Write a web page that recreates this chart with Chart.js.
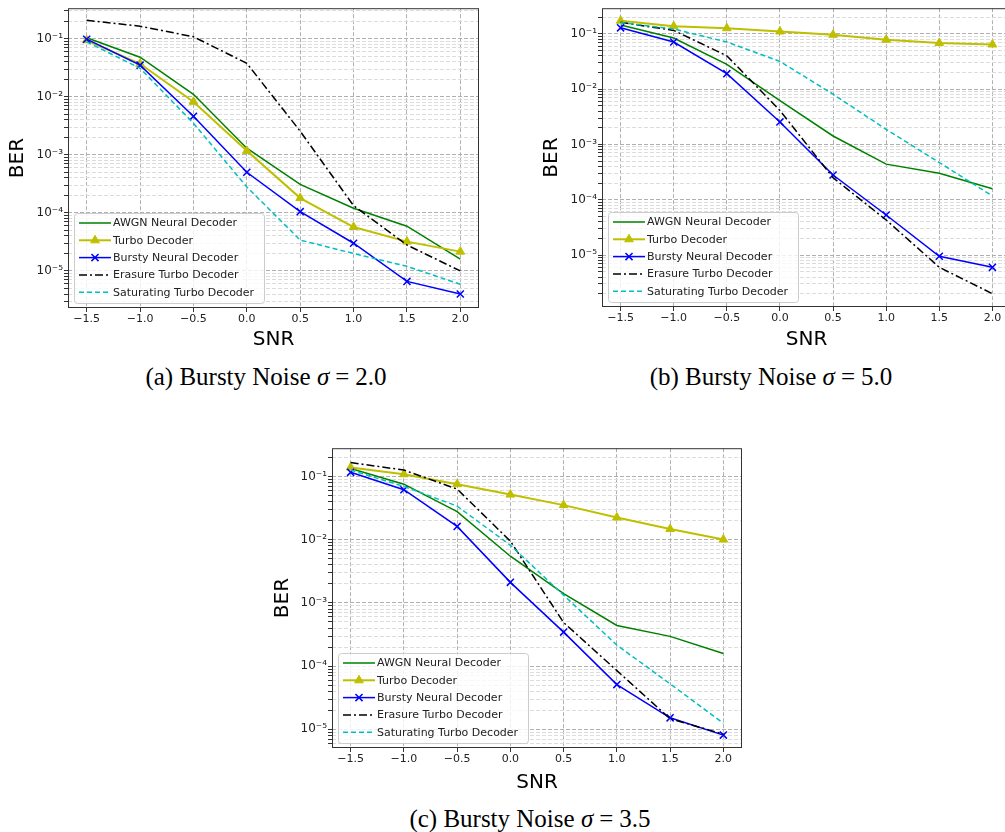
<!DOCTYPE html>
<html>
<head>
<meta charset="utf-8">
<script src="https://cdn.jsdelivr.net/npm/chart.js@4.4.0/dist/chart.umd.min.js"></script>
<style>
	html, body { margin: 0; padding: 0; background: #fff; overflow: hidden; }
	#figure { position: relative; width: 1005px; height: 832px; overflow: hidden; background: #fff; }
	.panel { position: absolute; }
	.caption {
		position: absolute;
		font-family: 'Liberation Serif', 'Times New Roman', serif;
		font-size: 25px;
		color: #000;
		white-space: nowrap;
		transform: translate(-50%, -50%);
	}
	.caption .eq { margin: 0 6px; }
</style>
</head>
<body>
<div id="figure">
	<canvas id="chart-a" class="panel" width="490" height="352" style="left:0px;top:0px"></canvas>
	<canvas id="chart-b" class="panel" width="490" height="352" style="left:534px;top:0px"></canvas>
	<canvas id="chart-c" class="panel" width="490" height="355" style="left:265px;top:440px"></canvas>
	<div class="caption" style="left:266px;top:377px">(a) Bursty Noise <i>σ</i><span class="eq">=</span>2.0</div>
	<div class="caption" style="left:771px;top:377px">(b) Bursty Noise <i>σ</i><span class="eq">=</span>5.0</div>
	<div class="caption" style="left:530px;top:819px">(c) Bursty Noise <i>σ</i><span class="eq">=</span>3.5</div>
</div>
<script>
const snr = [-1.5, -1.0, -0.5, 0.0, 0.5, 1.0, 1.5, 2.0];
const xTickLabels = ['−1.5', '−1.0', '−0.5', '0.0', '0.5', '1.0', '1.5', '2.0'];
const yTickDecades = [-6, -5, -4, -3, -2, -1];
const yTickLabels = ['10⁻⁶', '10⁻⁵', '10⁻⁴', '10⁻³', '10⁻²', '10⁻¹'];
const seriesNames = [
	'AWGN Neural Decoder',
	'Turbo Decoder',
	'Bursty Neural Decoder',
	'Erasure Turbo Decoder',
	'Saturating Turbo Decoder'
];

// (a) sigma = 2.0
const awgnA = [0.104, 0.048, 0.011, 1.3e-3, 3.1e-4, 1.2e-4, 5.9e-5, 1.6e-5];
const turboA = [0.094, 0.037, 8.2e-3, 1.17e-3, 1.8e-4, 5.7e-5, 3.2e-5, 2.15e-5];
const burstyA = [0.098, 0.035, 4.6e-3, 5.0e-4, 1.05e-4, 3.0e-5, 6.6e-6, 4.0e-6];
const erasureA = [0.207, 0.164, 0.108, 0.0377, 2.55e-3, 1.33e-4, 2.8e-5, 1.0e-5];
const saturA = [0.088, 0.031, 3.5e-3, 2.8e-4, 3.4e-5, 2.0e-5, 1.2e-5, 5.9e-6];

// (b) sigma = 5.0
const awgnB = [0.144, 0.084, 0.028, 6.2e-3, 1.42e-3, 4.4e-4, 3.0e-4, 1.58e-4];
const turboB = [0.172, 0.137, 0.126, 0.11, 0.096, 0.078, 0.068, 0.064];
const burstyB = [0.128, 0.071, 0.019, 2.55e-3, 2.8e-4, 5.3e-5, 9.5e-6, 6.0e-6];
const erasureB = [0.161, 0.115, 0.040, 4.1e-3, 2.5e-4, 4.3e-5, 6.0e-6, 2.0e-6];
const saturB = [0.16, 0.122, 0.071, 0.0316, 8.1e-3, 1.87e-3, 4.7e-4, 1.17e-4];

// (c) sigma = 3.5
const awgnC = [0.135, 0.076, 0.0279, 5.5e-3, 1.41e-3, 4.4e-4, 2.96e-4, 1.59e-4];
const turboC = [0.14, 0.109, 0.076, 0.052, 0.0354, 0.0225, 0.0148, 0.0101];
const burstyC = [0.117, 0.062, 0.0163, 2.12e-3, 3.46e-4, 5.1e-5, 1.52e-5, 8.1e-6];
const erasureC = [0.167, 0.127, 0.0636, 9.5e-3, 4.9e-4, 8.5e-5, 1.47e-5, 8.4e-6];
const saturC = [0.127, 0.070, 0.0342, 8.2e-3, 1.33e-3, 2.15e-4, 5.25e-5, 1.25e-5];

const seriesStyles = [
	{ color: '#008000', width: 1.5, dash: [], point: false, radius: 0 },
	{ color: '#bfbf00', width: 2, dash: [], point: 'triangle', radius: 5 },
	{ color: '#0000ff', width: 1.5, dash: [], point: 'crossRot', radius: 5 },
	{ color: '#000000', width: 1.5, dash: [8, 3, 2, 3], point: false, radius: 0 },
	{ color: '#00bfbf', width: 1.5, dash: [5, 3], point: false, radius: 0 }
];

const panels = [
	{ id: 'chart-a', values: [awgnA, turboA, burstyA, erasureA, saturA], yMin: 2.3e-6, yMax: 0.335, yWidth: 68, xHeight: 44, pad: { top: 3, right: 11, bottom: 0, left: 0 } },
	{ id: 'chart-b', values: [awgnB, turboB, burstyB, erasureB, saturB], yMin: 1.15e-6, yMax: 0.29, yWidth: 68, xHeight: 45, pad: { top: 2, right: 13, bottom: 0, left: 0 } },
	{ id: 'chart-c', values: [awgnC, turboC, burstyC, erasureC, saturC], yMin: 5.06e-6, yMax: 0.282, yWidth: 67, xHeight: 47, pad: { top: 3, right: 13, bottom: 0, left: 0 } }
];

Chart.defaults.font.family = "'DejaVu Sans', sans-serif";
Chart.defaults.font.size = 11;
Chart.defaults.color = '#222';

function isDecade(v) {
	const l = Math.log10(v);
	return Math.abs(l - Math.round(l)) < 1e-6;
}

const frameAndLegend = {
	id: 'frameAndLegend',
	afterDatasetsDraw(chart) {
		const { ctx, chartArea } = chart;
		ctx.save();
		ctx.setLineDash([]);
		ctx.strokeStyle = '#333';
		ctx.lineWidth = 1;
		ctx.strokeRect(chartArea.left + 0.5, chartArea.top + 0.5, chartArea.right - chartArea.left - 1, chartArea.bottom - chartArea.top - 1);

		const rowH = 17.3;
		const w = 190;
		const h = 90;
		const x = chartArea.left + 6;
		const y = chartArea.bottom - 5 - h;
		ctx.beginPath();
		ctx.roundRect(x + 0.5, y + 0.5, w, h, 3);
		ctx.fillStyle = 'rgba(255,255,255,0.8)';
		ctx.fill();
		ctx.strokeStyle = '#cccccc';
		ctx.stroke();

		chart.data.datasets.forEach((ds, i) => {
			const cy = y + 10 + i * rowH;
			ctx.strokeStyle = ds.borderColor;
			ctx.lineWidth = ds.borderWidth;
			ctx.setLineDash(ds.borderDash || []);
			ctx.beginPath();
			ctx.moveTo(x + 5, cy);
			ctx.lineTo(x + 37, cy);
			ctx.stroke();
			ctx.setLineDash([]);
			if (ds.pointStyle && ds.pointRadius > 0) {
				ctx.fillStyle = ds.pointBackgroundColor;
				ctx.strokeStyle = ds.pointBorderColor;
				ctx.lineWidth = ds.pointBorderWidth;
				Chart.helpers.drawPoint(ctx, { pointStyle: ds.pointStyle, radius: ds.pointRadius, rotation: 0, borderWidth: ds.pointBorderWidth }, x + 21, cy);
			}
			ctx.fillStyle = '#222';
			ctx.font = "11px 'DejaVu Sans', sans-serif";
			ctx.textBaseline = 'middle';
			ctx.textAlign = 'left';
			ctx.fillText(ds.label, x + 39, cy + 0.5);
		});
		ctx.restore();
	}
};

function buildDatasets(values) {
	return seriesNames.map((name, i) => {
		const s = seriesStyles[i];
		return {
			label: name,
			data: snr.map((x, j) => ({ x: x, y: values[i][j] })),
			borderColor: s.color,
			borderWidth: s.width,
			borderDash: s.dash,
			pointStyle: s.point,
			pointRadius: s.radius,
			pointHoverRadius: s.radius,
			pointBackgroundColor: s.color,
			pointBorderColor: s.color,
			pointBorderWidth: s.point === 'crossRot' ? 1.5 : 1,
			tension: 0,
			fill: false,
			order: seriesNames.length - i
		};
	});
}

function renderPanel(p) {
	const canvas = document.getElementById(p.id);
	new Chart(canvas, {
		type: 'line',
		data: { datasets: buildDatasets(p.values) },
		options: {
			responsive: false,
			animation: false,
			events: [],
			layout: { padding: p.pad },
			plugins: { legend: { display: false }, tooltip: { enabled: false } },
			scales: {
				x: {
					type: 'linear',
					min: -1.675,
					max: 2.175,
					afterBuildTicks: (axis) => {
						axis.ticks = snr.map((v) => ({ value: v }));
					},
					afterFit: (axis) => {
						axis.height = p.xHeight;
					},
					ticks: {
						autoSkip: false,
						maxRotation: 0,
						padding: 1,
						color: '#222',
						callback: (value) => {
							const k = snr.indexOf(value);
							return k >= 0 ? xTickLabels[k] : '';
						}
					},
					grid: { color: '#b0b0b0', lineWidth: 1, tickLength: 4, tickColor: '#333' },
					border: { display: false, dash: [4, 2] },
					title: { display: true, text: 'SNR', color: '#000', font: { size: 20 }, padding: { top: 0, bottom: 0 } }
				},
				y: {
					type: 'logarithmic',
					min: p.yMin,
					max: p.yMax,
					afterBuildTicks: (axis) => {
						const ticks = [];
						for (let e = -7; e <= 0; e++) {
							for (let m = 1; m <= 9; m++) {
								const v = m * Math.pow(10, e);
								if (v >= axis.min && v <= axis.max) ticks.push({ value: v });
							}
						}
						axis.ticks = ticks;
					},
					afterFit: (axis) => {
						axis.width = p.yWidth;
					},
					ticks: {
						autoSkip: false,
						padding: 1,
						color: '#222',
						font: { size: 12 },
						callback: (value) => {
							if (!isDecade(value)) return '';
							const k = yTickDecades.indexOf(Math.round(Math.log10(value)));
							return k >= 0 ? yTickLabels[k] : '';
						}
					},
					grid: {
						color: (ctx) => (ctx.tick && isDecade(ctx.tick.value) ? '#b0b0b0' : '#dcdcdc'),
						lineWidth: 1,
						tickLength: 4,
						tickColor: '#333'
					},
					border: { display: false, dash: [4, 2] },
					title: { display: true, text: 'BER', color: '#000', font: { size: 20 }, padding: { top: 6, bottom: 0 } }
				}
			}
		},
		plugins: [frameAndLegend]
	});
}

panels.forEach(renderPanel);
</script>
</body>
</html>
